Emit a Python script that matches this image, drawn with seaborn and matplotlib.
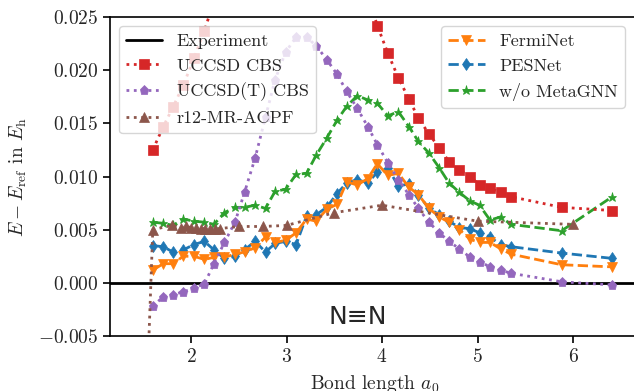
"""
N2 dissociation curve: error relative to experiment
"""

import matplotlib
matplotlib.use("Agg")

import matplotlib.pyplot as plt
import seaborn as sns

# =========================================================
# Data
# =========================================================

BOND = [
    1.60, 1.71, 1.81, 1.92, 2.03, 2.14, 2.24, 2.35, 2.46, 2.56,
    2.67, 2.78, 2.88, 2.99, 3.10, 3.21, 3.31, 3.42, 3.53, 3.63,
    3.74, 3.85, 3.95, 4.06, 4.17, 4.28, 4.38, 4.49, 4.60, 4.70,
    4.81, 4.92, 5.02, 5.13, 5.24, 5.35, 5.88, 6.41,
]

UCCSD_CBS = [
    0.0125, 0.0147, 0.0165, 0.0186, 0.0211, 0.0237, 0.0265, 0.0290, 0.0320, 0.0350,
    0.0370, 0.0390, 0.0400, 0.0410, 0.0410, 0.0400, 0.0390, 0.0370, 0.0350, 0.0320,
    0.0300, 0.0270, 0.0242, 0.0216, 0.0193, 0.0173, 0.0155, 0.0140, 0.0127, 0.0114,
    0.0106, 0.0100, 0.0092, 0.0089, 0.0085, 0.0081, 0.0071, 0.0068,
]

UCCSD_T_CBS = [
    -0.0022, -0.0013, -0.0011, -0.00085, -0.0005, -0.0001, 0.0018, 0.0038, 0.0057, 0.0085,
    0.0117, 0.0156, 0.0191, 0.0217, 0.0231, 0.0231, 0.0223, 0.0210, 0.0196, 0.0180,
    0.0164, 0.0147, 0.0130, 0.0113, 0.0097, 0.0083, 0.0070, 0.0057, 0.0047, 0.0039,
    0.0032, 0.0024, 0.0020, 0.0015, 0.0012, 0.0009, 0.0001, -0.0002,
]

FERMINET = [
    0.0012, 0.0018, 0.0018, 0.0025, 0.0025, 0.0022, 0.0024, 0.0024, 0.0027, 0.0029,
    0.0033, 0.0043, 0.0038, 0.0040, 0.0047, 0.0060, 0.0058, 0.0069, 0.0074, 0.0095,
    0.0092, 0.0098, 0.0112, 0.0101, 0.0103, 0.0090, 0.0083, 0.0070, 0.0062, 0.0057,
    0.0050, 0.0041, 0.0038, 0.0038, 0.0032, 0.0027, 0.0017, 0.0015,
]

PESNET = [
    0.0035, 0.0034, 0.0029, 0.0031, 0.0036, 0.0039, 0.0031, 0.0023, 0.0025, 0.0031,
    0.0039, 0.0029, 0.0037, 0.0039, 0.0036, 0.0063, 0.0064, 0.0071, 0.0084, 0.0094,
    0.0097, 0.0094, 0.0104, 0.0108, 0.0091, 0.0093, 0.0083, 0.0070, 0.0064, 0.0058,
    0.0052, 0.0051, 0.0047, 0.0043, 0.0036, 0.0034, 0.0028, 0.0023,
]

NO_METAGNN = [
    0.0057, 0.0056, 0.0054, 0.0060, 0.0058, 0.0057, 0.0055, 0.0066, 0.0071, 0.0071,
    0.0073, 0.0070, 0.0086, 0.0088, 0.0102, 0.0103, 0.0120, 0.0136, 0.0153, 0.0166,
    0.0176, 0.0172, 0.0169, 0.0157, 0.0161, 0.0147, 0.0133, 0.0122, 0.0108, 0.0094,
    0.0085, 0.0077, 0.0073, 0.0059, 0.0062, 0.0055, 0.0049, 0.0081,
]

ACPF_BOND = [
    1.50, 1.60, 1.80, 1.90, 1.95, 2.00, 2.05, 2.10, 2.15, 2.20,
    2.25, 2.30, 2.50, 2.75, 3.00, 3.50, 4.00, 5.00, 6.00,
]

ACPF = [
    -0.0200, 0.0050, 0.0054, 0.0052, 0.0053, 0.0052, 0.0052, 0.0051, 0.0051, 0.0051,
    0.0051, 0.0051, 0.0053, 0.0053, 0.0054, 0.0066, 0.0073, 0.0058, 0.0055,
]

# =========================================================
# Plot Settings
# =========================================================

sns.set_theme(style="ticks")

plt.rcParams["font.family"] = "serif"
plt.rcParams["font.serif"] = ["cmr10"]
plt.rcParams["mathtext.fontset"] = "cm"
plt.rcParams["axes.formatter.use_mathtext"] = True
plt.rcParams["axes.unicode_minus"] = True

TICK_SIZE = 14
LEGEND_SIZE = 13


def series(ax, x, y, color, marker, ls, label):
    sns.lineplot(
        x=x,
        y=y,
        ax=ax,
        color=color,
        marker=marker,
        linestyle=ls,
        linewidth=2,
        markersize=6.5,
        markeredgecolor=color,
        markeredgewidth=0.5,
        label=label,
        legend=False,
    )
    return ax.lines[-1]


def main():

    fig = plt.figure(figsize=(6.34, 3.91), dpi=100)
    ax = fig.add_axes([110 / 634, 55 / 391, 530 / 634, 319 / 391])

    exp_line = ax.axhline(0, color="black", linewidth=2, label="Experiment")

    h_green = series(ax, BOND, NO_METAGNN, "tab:green", "*", "--", "w/o MetaGNN")
    h_blue = series(ax, BOND, PESNET, "tab:blue", "d", "--", "PESNet")
    h_orange = series(ax, BOND, FERMINET, "tab:orange", "v", "--", "FermiNet")

    h_red = series(ax, BOND, UCCSD_CBS, "tab:red", "s", ":", "UCCSD CBS")
    h_purple = series(ax, BOND, UCCSD_T_CBS, "tab:purple", "p", ":", "UCCSD(T) CBS")
    h_brown = series(ax, ACPF_BOND, ACPF, "tab:brown", "^", ":", "r12-MR-ACPF")

    ax.set_xlim(1.152, 6.70)
    ax.set_ylim(-0.005, 0.025)
    ax.set_xticks([2, 3, 4, 5, 6])
    ax.set_yticks([-0.005, 0.0, 0.005, 0.010, 0.015, 0.020, 0.025])
    ax.tick_params(labelsize=TICK_SIZE, length=5, width=1.2, color="black")

    for side in ["left", "bottom", "top", "right"]:
        ax.spines[side].set_color("black")
        ax.spines[side].set_linewidth(1.2)

    ax.set_xlabel(r"Bond length $a_0$", fontsize=TICK_SIZE, labelpad=5)
    ax.set_ylabel(r"$E - E_{\mathrm{ref}}$ in $E_{\mathrm{h}}$",
                  fontsize=TICK_SIZE, labelpad=6)

    ax.text(3.75, -0.0032, "N≡N", fontsize=18, family="DejaVu Sans",
            ha="center", va="center")

    leg1 = ax.legend(
        handles=[exp_line, h_red, h_purple, h_brown],
        loc="upper left",
        fontsize=LEGEND_SIZE,
        borderaxespad=0.5,
    )
    ax.add_artist(leg1)

    ax.legend(
        handles=[h_orange, h_blue, h_green],
        loc="upper right",
        fontsize=LEGEND_SIZE,
        borderaxespad=0.5,
        bbox_to_anchor=((628 - 110 + 6) / 530, 1.0),
    )

    fig.savefig("out.png", dpi=100)
    plt.close(fig)


if __name__ == "__main__":
    main()
